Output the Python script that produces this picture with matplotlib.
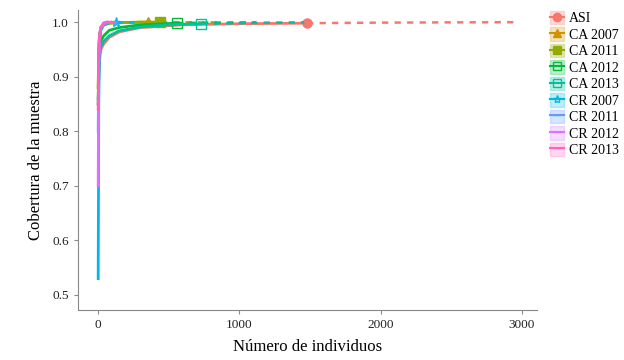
import matplotlib
matplotlib.use("Agg")
import matplotlib.pyplot as plt
from matplotlib.lines import Line2D
from matplotlib.patches import Patch
from matplotlib.legend_handler import HandlerTuple

plt.rcParams['font.family'] = ['Liberation Serif', 'DejaVu Serif']

labels = ['ASI', 'CA 2007', 'CA 2011', 'CA 2012', 'CA 2013',
          'CR 2007', 'CR 2011', 'CR 2012', 'CR 2013']
colors = ['#F8766D', '#D39200', '#93AA00', '#00BA38', '#00C19F',
          '#00B9E3', '#619CFF', '#DB72FB', '#FF61C3']
markers = ['o', '^', 's', 's', 's', '*', '_', '_', '_']

# interpolated (rarefied) part: sample size and coverage
n_interp = [
    [1, 5, 10, 20, 40, 80, 150, 300, 600, 1000, 1480],
    [1, 5, 10, 20, 40, 80, 150, 355],
    [1, 5, 10, 20, 40, 80, 150, 300, 440],
    [1, 5, 10, 20, 40, 80, 150, 300, 560],
    [1, 5, 10, 20, 40, 80, 150, 300, 500, 730],
    [1, 5, 10, 20, 40, 80, 128],
    [1, 5, 10, 20, 40, 90],
    [1, 5, 10, 20, 40, 60],
    [1, 5, 10, 20, 40, 70],
]
cov_interp = [
    [0.85, 0.90, 0.93, 0.95, 0.96, 0.972, 0.982, 0.990, 0.995, 0.997, 0.998],
    [0.88, 0.95, 0.975, 0.99, 0.995, 0.998, 0.999, 1.0],
    [0.88, 0.95, 0.975, 0.99, 0.995, 0.998, 0.999, 1.0, 1.0],
    [0.86, 0.92, 0.95, 0.965, 0.975, 0.985, 0.99, 0.995, 0.998],
    [0.85, 0.91, 0.94, 0.955, 0.965, 0.975, 0.984, 0.991, 0.995, 0.997],
    [0.53, 0.85, 0.95, 0.985, 0.995, 0.999, 1.0],
    [0.80, 0.93, 0.97, 0.99, 0.997, 1.0],
    [0.70, 0.92, 0.97, 0.99, 0.998, 1.0],
    [0.84, 0.94, 0.975, 0.99, 0.998, 1.0],
]
# extrapolated part (dashed)
n_extrap = [
    [1480, 2000, 2500, 2960],
    [355, 710],
    [440, 880],
    [560, 800, 1120],
    [730, 1000, 1200, 1460],
    [128, 256],
    [90, 180],
    [60, 120],
    [70, 140],
]
cov_extrap = [
    [0.998, 0.999, 0.9995, 0.9998],
    [1.0, 1.0],
    [1.0, 1.0],
    [0.998, 0.999, 0.9995],
    [0.997, 0.998, 0.999, 0.9995],
    [1.0, 1.0],
    [1.0, 1.0],
    [1.0, 1.0],
    [1.0, 1.0],
]

fig = plt.figure(figsize=(6.24, 3.6), dpi=100)
ax = fig.add_axes([0.125, 0.139, 0.736, 0.833])

for i in range(len(labels)):
    c = colors[i]
    ax.plot(n_extrap[i], cov_extrap[i], color=c, lw=1.8, ls=(0, (2.5, 2.5)))
    ax.plot(n_interp[i], cov_interp[i], color=c, lw=2.0)
    ax.plot(n_interp[i][-1], cov_interp[i][-1], marker=markers[i], color=c,
            ms=6.5, mfc=c if i < 3 else 'none', mew=1.0, ls='none')

ax.set_xlim(-142, 3110)
ax.set_ylim(0.4725, 1.022)
ax.set_xticks([0, 1000, 2000, 3000])
ax.set_yticks([0.5, 0.6, 0.7, 0.8, 0.9, 1.0])
ax.set_yticklabels(['0.5', '0.6', '0.7', '0.8', '0.9', '1.0'])
for s in ['top', 'right']:
    ax.spines[s].set_visible(False)
for s in ['left', 'bottom']:
    ax.spines[s].set_color('#888888')
    ax.spines[s].set_linewidth(0.8)
ax.tick_params(colors='#888888', labelcolor='#222222', labelsize=9.5, length=3)
ax.set_xlabel('Número de individuos', fontsize=12, labelpad=6)
ax.set_ylabel('Cobertura de la muestra', fontsize=12, labelpad=6)

handles = []
for i in range(len(labels)):
    c = colors[i]
    box = Patch(facecolor=c, alpha=0.25, edgecolor=c)
    ln = Line2D([], [], color=c, lw=1.5, marker=markers[i], ms=6,
                mfc=c if i < 3 else 'none')
    handles.append((box, ln))
fig.legend(handles, labels, handler_map={tuple: HandlerTuple(ndivide=1)},
           loc='upper left', bbox_to_anchor=(0.872, 0.985), frameon=False,
           fontsize=10, handlelength=1.0, handleheight=1.1, labelspacing=0.15,
           handletextpad=0.4, borderaxespad=0)

fig.savefig('out.png', dpi=100)
